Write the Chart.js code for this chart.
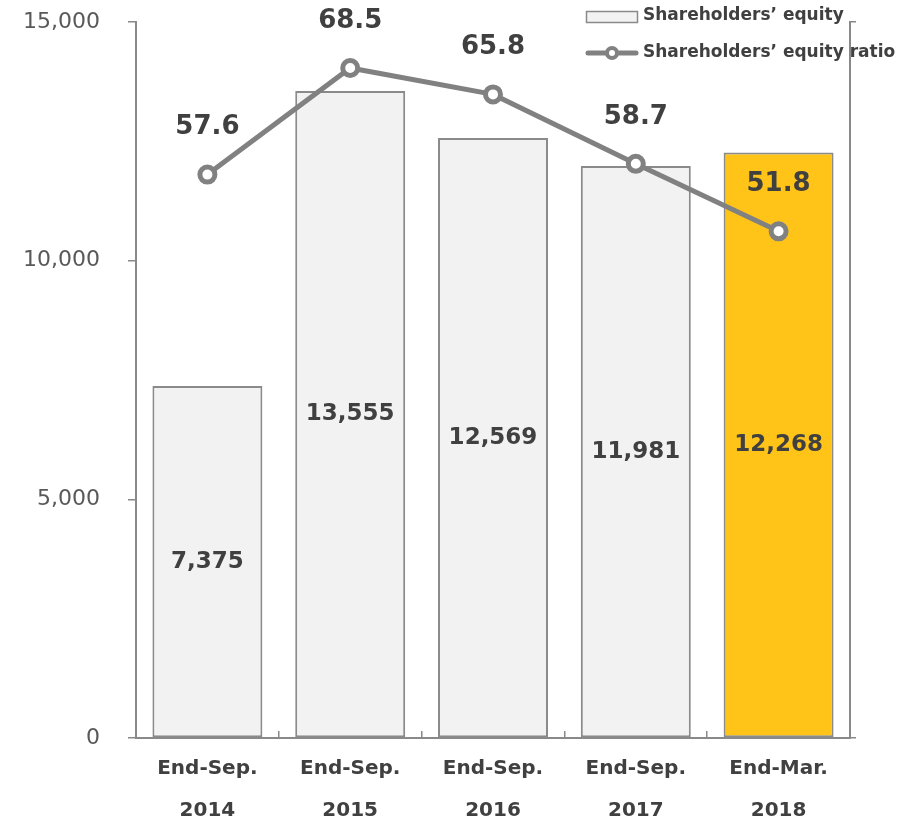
<!DOCTYPE html>
<html>
<head>
<meta charset="utf-8">
<script src="https://cdn.jsdelivr.net/npm/chart.js@4.4.1/dist/chart.umd.min.js"></script>
<style>
  html, body { margin: 0; padding: 0; background: #ffffff; }
  canvas { display: block; }
</style>
</head>
<body>
<canvas id="c" width="918" height="822"></canvas>
<script>
// Period labels (two lines each)
const periods = [
  ['End-Sep.', '2014'],
  ['End-Sep.', '2015'],
  ['End-Sep.', '2016'],
  ['End-Sep.', '2017'],
  ['End-Mar.', '2018']
];
// Shareholders' equity (left axis)
const equity = [7375, 13555, 12569, 11981, 12268];
// Shareholders' equity ratio, % (right axis)
const equityRatio = [57.6, 68.5, 65.8, 58.7, 51.8];
// Left axis tick values
const equityTicks = [0, 5000, 10000, 15000];

const FONT = '"DejaVu Sans", Verdana, sans-serif';
const AXIS = '#898989';
const LINE = '#818181';
const TEXT = '#404040';

const barFill = ['#f2f2f2', '#f2f2f2', '#f2f2f2', '#f2f2f2', '#ffc417'];

// Value labels: centred inside bars, above line points
const valueLabels = {
  id: 'valueLabels',
  afterDatasetsDraw(chart) {
    const ctx = chart.ctx;
    ctx.save();
    ctx.fillStyle = TEXT;
    ctx.textAlign = 'center';
    ctx.textBaseline = 'middle';
    chart.data.datasets.forEach((ds, di) => {
      const meta = chart.getDatasetMeta(di);
      meta.data.forEach((el, i) => {
        const v = ds.data[i];
        if (ds.type === 'bar') {
          ctx.font = 'bold 23px ' + FONT;
          ctx.fillText(v.toLocaleString('en-US'), el.x, (el.y + el.base) / 2);
        } else {
          ctx.font = 'bold 26px ' + FONT;
          ctx.fillText(v.toFixed(1), el.x, el.y - 47);
        }
      });
    });
    ctx.restore();
  }
};

// Legend in the top-right corner
const cornerLegend = {
  id: 'cornerLegend',
  afterDraw(chart) {
    const ctx = chart.ctx;
    const bar = chart.data.datasets[1];
    const line = chart.data.datasets[0];
    ctx.save();
    ctx.font = 'bold 17px ' + FONT;
    ctx.textAlign = 'left';
    ctx.textBaseline = 'middle';
    // bar swatch
    ctx.fillStyle = '#f2f2f2';
    ctx.fillRect(586.5, 11.5, 51, 11);
    ctx.strokeStyle = bar.borderColor;
    ctx.lineWidth = 1.5;
    ctx.strokeRect(586.5, 11.5, 51, 11);
    ctx.fillStyle = TEXT;
    ctx.fillText(bar.label, 643, 16);
    // line swatch
    ctx.strokeStyle = line.borderColor;
    ctx.lineWidth = 5;
    ctx.lineCap = 'round';
    ctx.beginPath();
    ctx.moveTo(588, 53);
    ctx.lineTo(636, 53);
    ctx.stroke();
    ctx.beginPath();
    ctx.arc(612, 53, 5, 0, Math.PI * 2);
    ctx.fillStyle = '#ffffff';
    ctx.fill();
    ctx.lineWidth = 4;
    ctx.stroke();
    ctx.fillStyle = TEXT;
    ctx.fillText(line.label, 643, 53);
    ctx.restore();
  }
};

function noOverflow(axis) {
  axis.paddingTop = 0;
  axis.paddingBottom = 0;
  axis.paddingLeft = 0;
  axis.paddingRight = 0;
}

new Chart(document.getElementById('c'), {
  data: {
    labels: periods,
    datasets: [
      {
        type: 'line',
        label: 'Shareholders\u2019 equity ratio',
        data: equityRatio,
        yAxisID: 'yRatio',
        borderColor: LINE,
        borderWidth: 5,
        pointRadius: 7.5,
        pointHoverRadius: 7.5,
        pointBorderWidth: 5,
        pointBackgroundColor: '#ffffff',
        pointBorderColor: LINE,
        tension: 0,
        clip: false,
        order: 0
      },
      {
        type: 'bar',
        label: 'Shareholders\u2019 equity',
        data: equity,
        yAxisID: 'y',
        backgroundColor: barFill,
        borderColor: '#8a8a8a',
        borderWidth: 2,
        borderSkipped: false,
        categoryPercentage: 1,
        barPercentage: 0.77,
        order: 1
      }
    ]
  },
  options: {
    responsive: false,
    animation: false,
    devicePixelRatio: 1,
    layout: { padding: { top: 22, left: 0, right: 0, bottom: 0 } },
    plugins: {
      legend: { display: false },
      title: { display: false },
      tooltip: { enabled: false }
    },
    scales: {
      x: {
        type: 'category',
        offset: true,
        grid: {
          offset: true,
          drawOnChartArea: false,
          drawTicks: true,
          tickLength: -7,
          color: AXIS,
          lineWidth: 1.5
        },
        border: { display: true, color: AXIS, width: 2 },
        ticks: {
          color: TEXT,
          font: { family: FONT, size: 20, weight: 'bold', lineHeight: 2.1 },
          padding: 17,
          maxRotation: 0,
          autoSkip: false
        },
        afterFit(axis) { axis.height = 84; noOverflow(axis); }
      },
      y: {
        type: 'linear',
        position: 'left',
        min: 0,
        max: 15000,
        afterBuildTicks(axis) { axis.ticks = equityTicks.map(v => ({ value: v })); },
        grid: {
          drawOnChartArea: false,
          drawTicks: true,
          tickLength: 8,
          color: AXIS,
          lineWidth: 1.5
        },
        border: { display: true, color: AXIS, width: 2 },
        ticks: {
          color: '#595959',
          font: { family: FONT, size: 22 },
          padding: 28,
          callback: v => Number(v).toLocaleString('en-US')
        },
        afterFit(axis) { axis.width = 136; noOverflow(axis); }
      },
      yRatio: {
        type: 'linear',
        position: 'right',
        min: 0,
        max: 73.2,
        afterBuildTicks(axis) { axis.ticks = [{ value: 0 }, { value: 73.2 }]; },
        grid: {
          drawOnChartArea: false,
          drawTicks: true,
          tickLength: 6,
          color: AXIS,
          lineWidth: 1.5
        },
        border: { display: true, color: AXIS, width: 2 },
        ticks: { display: false },
        afterFit(axis) { axis.width = 68; noOverflow(axis); }
      }
    }
  },
  plugins: [valueLabels, cornerLegend]
});
</script>
</body>
</html>
